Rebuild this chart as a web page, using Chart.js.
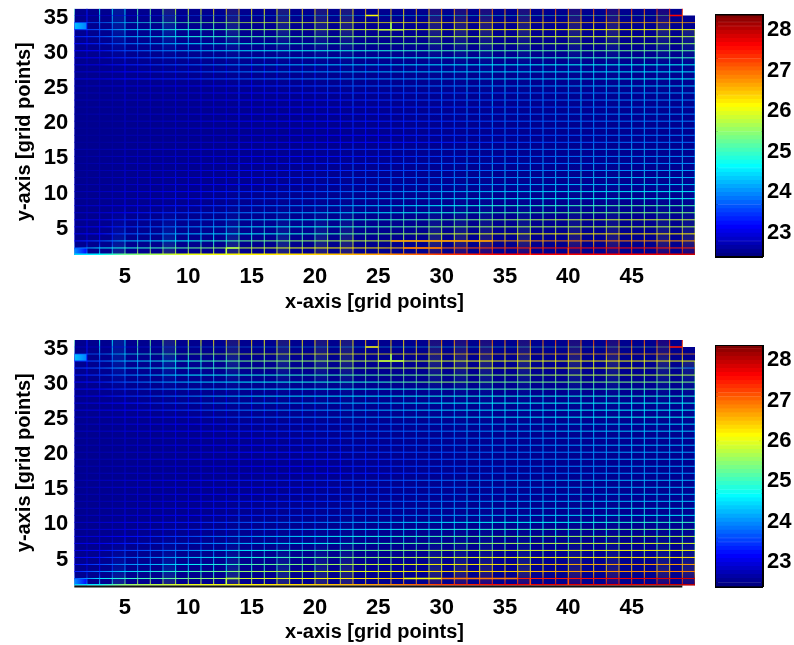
<!DOCTYPE html>
<html lang="en">
<head>
<meta charset="UTF-8">
<title>Grid point heat maps</title>
<script src="https://cdn.jsdelivr.net/npm/chart.js"></script>
<style>
    html, body { margin: 0; padding: 0; background: #fff; }
    body { width: 794px; height: 645px; position: relative; overflow: hidden; }
    canvas { position: absolute; }
</style>
</head>
<body>
<canvas id="map1" width="700" height="320" style="left:0;top:0;width:700px;height:320px"></canvas>
<canvas id="bar1" width="94" height="320" style="left:700px;top:0;width:94px;height:320px"></canvas>
<canvas id="map2" width="700" height="315" style="left:0;top:330px;width:700px;height:315px"></canvas>
<canvas id="bar2" width="94" height="315" style="left:700px;top:330px;width:94px;height:315px"></canvas>
<script>
const xTicks = [5, 10, 15, 20, 25, 30, 35, 40, 45];
const yTicks = [5, 10, 15, 20, 25, 30, 35];
const barTicks = [23, 24, 25, 26, 27, 28];
const xTitle = 'x-axis [grid points]';
const yTitle = 'y-axis [grid points]';

// colour levels of the colorbar
const levels = [22.4,22.5,22.6,22.7,22.8,22.9,23.0,23.1,23.2,23.3,23.4,23.5,23.6,23.7,23.8,23.9,24.0,24.1,24.2,24.3,
    24.4,24.5,24.6,24.7,24.8,24.9,25.0,25.1,25.2,25.3,25.4,25.5,25.6,25.7,25.8,25.9,26.0,26.1,26.2,26.3,
    26.4,26.5,26.6,26.7,26.8,26.9,27.0,27.1,27.2,27.3,27.4,27.5,27.6,27.7,27.8,27.9,28.0,28.1,28.2,28.3];

// where the row values below are read along x
const rowX = [1, 3, 5, 10, 15, 20, 25, 30, 35, 40, 45, 50];
// rows run from y = 35 down to y = 1
const rowY = [35,34,33,32,31,30,29,28,27,26,25,24,23,22,21,20,19,18,17,16,15,14,13,12,11,10,9,8,7,6,5,4,3,2,1];
// where the column values below are read along y
const colY = [1, 3, 8, 18, 28, 33, 36];
// columns with a faint shaded cell
const shadedCols = [4, 8, 13, 17, 20, 22, 29, 31, 33, 36, 40, 43, 47, 49];

const rows1 = [
    [23.0,23.0,23.2,23.6,24.0,24.2,24.4,24.6,24.8,25.0,25.2,25.4],
    [23.5,23.7,24.3,25.2,25.8,26.0,26.1,26.3,26.4,26.5,26.6,26.7],
    [23.4,23.7,24.2,24.9,25.5,25.8,25.9,26.0,26.1,26.1,26.1,26.0],
    [23.3,23.6,24.1,24.8,25.1,25.3,25.5,25.7,25.8,25.9,25.9,25.7],
    [23.2,23.4,23.8,24.4,24.8,25.0,25.2,25.3,25.5,25.6,25.6,25.5],
    [23.1,23.2,23.6,24.1,24.5,24.7,24.8,25.0,25.1,25.2,25.3,25.2],
    [23.0,23.1,23.4,23.9,24.3,24.5,24.6,24.7,24.8,24.9,25.0,25.0],
    [22.9,23.0,23.3,23.7,24.1,24.3,24.4,24.5,24.6,24.7,24.7,24.7],
    [22.8,22.9,23.1,23.5,23.9,24.0,24.2,24.3,24.4,24.4,24.5,24.5],
    [22.9,23.0,23.2,23.4,23.7,23.9,24.0,24.1,24.3,24.4,24.6,24.6],
    [22.7,22.8,22.9,23.0,23.3,23.5,23.7,23.8,23.9,24.0,24.2,24.3],
    [22.7,22.7,22.8,22.9,23.1,23.3,23.4,23.5,23.6,23.7,23.9,24.0],
    [22.7,22.7,22.8,22.9,23.1,23.2,23.4,23.5,23.6,23.7,23.9,23.9],
    [22.6,22.7,22.7,22.8,23.0,23.2,23.3,23.4,23.5,23.6,23.8,23.8],
    [22.6,22.7,22.7,22.9,23.1,23.2,23.3,23.5,23.6,23.7,23.9,23.9],
    [22.6,22.6,22.7,22.9,23.1,23.2,23.3,23.4,23.6,23.7,23.8,23.9],
    [22.6,22.6,22.7,22.9,23.0,23.1,23.3,23.4,23.5,23.7,23.8,23.9],
    [22.6,22.6,22.7,22.8,23.0,23.1,23.2,23.4,23.5,23.6,23.8,23.9],
    [22.6,22.6,22.7,22.8,23.0,23.1,23.2,23.3,23.5,23.6,23.8,23.8],
    [22.7,22.7,22.8,23.0,23.2,23.3,23.4,23.6,23.7,23.8,24.0,24.0],
    [22.6,22.7,22.8,22.9,23.1,23.2,23.3,23.5,23.6,23.8,23.9,24.0],
    [22.6,22.7,22.8,22.9,23.1,23.3,23.4,23.6,23.7,23.8,23.9,24.0],
    [22.6,22.7,22.8,22.9,23.2,23.3,23.5,23.6,23.8,23.9,24.0,24.1],
    [22.6,22.7,22.8,23.0,23.2,23.4,23.6,23.7,23.9,24.0,24.2,24.2],
    [22.7,22.7,22.8,23.0,23.2,23.4,23.6,23.8,24.0,24.2,24.2,24.3],
    [22.7,22.8,22.9,23.1,23.4,23.6,23.9,24.1,24.3,24.4,24.5,24.6],
    [22.7,22.8,22.9,23.2,23.5,23.8,24.1,24.3,24.5,24.6,24.7,24.7],
    [22.8,22.9,23.0,23.3,23.7,24.0,24.3,24.6,24.9,25.0,25.2,25.1],
    [22.8,22.9,23.1,23.5,23.9,24.2,24.5,24.8,25.1,25.3,25.4,25.4],
    [22.9,23.0,23.3,23.7,24.2,24.6,24.9,25.2,25.5,25.8,25.9,25.8],
    [22.9,23.1,23.4,23.9,24.4,24.7,25.0,25.4,25.6,25.7,25.8,25.7],
    [23.0,23.2,23.6,24.2,24.6,24.9,25.3,25.8,26.0,26.2,26.3,26.2],
    [23.2,23.6,24.2,24.7,25.3,25.6,25.9,26.5,26.7,26.9,26.9,26.7],
    [23.6,24.5,24.8,25.2,25.8,26.1,26.3,27.0,27.4,27.6,27.6,27.4],
    [24.4,24.6,25.3,26.0,26.2,26.4,26.7,27.3,27.7,27.7,27.7,27.9]
];

const cols1 = [
    [24.2,23.0,22.9,22.8,22.9,23.2,25.0],
    [24.0,23.0,22.7,22.6,22.7,23.2,23.3],
    [24.6,23.2,22.8,22.6,22.7,23.6,24.7],
    [24.8,23.4,22.8,22.6,22.8,23.8,24.6],
    [25.3,24.0,23.1,22.8,23.1,24.2,24.5],
    [25.8,24.0,23.0,22.7,22.9,24.2,25.2],
    [25.9,24.1,23.0,22.7,22.9,24.3,25.4],
    [26.0,24.2,23.0,22.7,22.9,24.4,25.5],
    [26.0,24.6,23.3,22.8,23.0,24.6,25.9],
    [26.0,24.5,23.2,22.8,23.0,24.7,26.0],
    [26.1,24.5,23.2,22.8,23.0,24.8,26.1],
    [26.1,24.6,23.3,22.8,23.0,24.9,26.4],
    [26.1,24.7,23.3,22.8,23.0,25.0,26.5],
    [26.2,25.2,23.8,23.1,23.6,25.3,26.6],
    [26.2,24.9,23.4,22.9,23.2,25.3,26.3],
    [26.2,25.0,23.5,22.9,23.3,25.3,26.2],
    [26.3,25.0,23.5,22.9,23.3,25.4,26.2],
    [26.3,25.2,23.7,23.0,23.4,25.4,26.2],
    [26.4,25.1,23.6,23.0,23.4,25.4,26.4],
    [26.4,25.1,23.6,23.0,23.4,25.5,26.4],
    [26.5,25.5,23.9,23.1,23.7,25.6,26.5],
    [26.5,25.3,23.8,23.1,23.5,25.6,26.5],
    [26.6,25.8,24.2,23.3,24.0,25.8,26.3],
    [26.6,25.5,23.9,23.2,23.6,25.7,26.6],
    [26.7,25.5,24.0,23.2,23.6,25.7,26.6],
    [26.8,25.6,24.1,23.3,23.8,25.8,26.5],
    [26.9,25.7,24.2,23.3,23.8,25.8,26.4],
    [27.0,25.8,24.2,23.4,23.9,25.8,26.7],
    [27.1,25.8,24.2,23.4,23.8,25.8,26.6],
    [27.2,26.0,24.4,23.5,24.1,26.0,26.9],
    [27.3,26.0,24.4,23.5,24.0,26.0,26.8],
    [27.4,26.3,24.7,23.7,24.4,26.1,27.0],
    [27.5,26.1,24.5,23.6,24.1,26.0,27.0],
    [27.6,26.5,24.8,23.8,24.5,26.2,27.0],
    [27.6,26.4,24.7,23.8,24.4,26.1,26.9],
    [27.6,26.2,24.6,23.7,24.2,26.0,26.8],
    [27.7,26.2,24.6,23.7,24.2,26.0,26.9],
    [27.7,26.3,24.7,23.8,24.2,26.0,27.0],
    [27.7,26.4,24.7,23.8,24.3,26.1,27.2],
    [27.7,26.3,24.7,23.8,24.3,26.0,27.0],
    [27.7,26.6,25.0,24.0,24.6,26.2,27.0],
    [27.7,26.4,24.8,23.9,24.4,26.1,27.2],
    [27.7,26.4,24.8,23.9,24.4,26.1,27.4],
    [27.7,26.6,25.0,24.0,24.6,26.2,27.1],
    [27.7,26.5,24.9,24.0,24.5,26.1,27.3],
    [27.7,26.5,24.9,24.0,24.5,26.1,27.1],
    [27.7,26.4,24.8,23.9,24.4,26.0,27.4],
    [27.8,26.4,24.8,23.9,24.4,26.0,27.5],
    [27.8,26.5,24.9,24.0,24.5,26.0,27.5],
    [27.9,26.4,24.8,23.9,24.4,25.9,null]
];

// single edges that stand out: x0, y0, x1, y1, value
const edges1 = [
    [25,33,27,33,25.8],
    [24,35,25,35,26.1],
    [26,34,26,33,25.6],
    [13,2,14,2,25.7],
    [13,1,13,2,25.8],
    [27,2,30,2,26.9],
    [26,3,34,3,26.7],
    [37,1,37,2,27.2],
    [40,1,40,2,27.2],
    [48,35,49,35,27.6]
];

const rows2 = [
    [23.0,23.0,23.2,23.7,24.1,24.3,24.5,24.7,24.9,25.1,25.3,25.5],
    [23.6,23.8,24.5,25.4,25.9,26.1,26.2,26.4,26.5,26.6,26.7,26.8],
    [23.4,23.7,24.2,24.9,25.4,25.6,25.8,25.9,26.0,26.1,26.1,26.0],
    [23.4,23.7,24.2,24.9,25.3,25.5,25.6,25.9,26.0,26.1,26.1,23.9],
    [23.3,23.5,23.9,24.6,24.8,25.0,25.2,25.4,25.5,25.7,25.8,25.7],
    [23.1,23.3,23.7,24.3,24.6,24.8,24.9,25.5,25.3,25.4,25.4,25.4],
    [23.0,23.2,23.5,24.1,24.4,24.6,24.7,24.9,25.1,25.1,25.1,25.2],
    [22.9,23.1,23.4,23.9,24.4,24.5,24.6,24.8,24.8,24.8,24.9,24.9],
    [22.9,23.0,23.2,23.7,24.1,24.2,24.3,24.6,24.7,24.7,24.7,24.7],
    [22.9,23.0,23.1,23.5,23.9,24.0,24.2,24.4,24.5,24.6,24.6,24.6],
    [22.8,22.9,23.0,23.3,23.7,23.9,24.1,24.3,24.5,24.6,24.7,24.7],
    [22.7,22.8,22.9,23.1,23.4,23.5,23.7,23.9,24.1,24.2,24.3,24.4],
    [22.8,22.8,22.9,23.1,23.3,23.5,23.7,23.8,24.0,24.2,24.3,24.3],
    [22.7,22.7,22.8,23.0,23.2,23.4,23.6,23.7,23.9,24.0,24.1,24.2],
    [22.7,22.7,22.8,23.0,23.2,23.4,23.5,23.7,23.9,24.0,24.2,24.2],
    [22.7,22.7,22.8,22.9,23.2,23.3,23.5,23.6,23.8,23.9,24.1,24.1],
    [22.7,22.7,22.8,23.0,23.1,23.3,23.4,23.6,23.8,23.9,24.1,24.2],
    [22.7,22.7,22.8,22.9,23.1,23.2,23.4,23.6,23.7,23.9,24.0,24.1],
    [22.6,22.7,22.8,22.9,23.0,23.2,23.3,23.5,23.7,23.8,24.0,24.0],
    [22.7,22.8,22.9,23.1,23.3,23.4,23.6,23.8,23.9,24.1,24.2,24.2],
    [22.7,22.8,22.9,23.0,23.2,23.3,23.5,23.7,23.8,24.0,24.1,24.2],
    [22.7,22.7,22.8,23.0,23.2,23.4,23.5,23.7,23.8,24.0,24.1,24.2],
    [22.7,22.7,22.8,23.0,23.3,23.4,23.6,23.8,24.0,24.1,24.2,24.3],
    [22.7,22.8,22.9,23.1,23.3,23.5,23.7,23.9,24.1,24.2,24.4,24.4],
    [22.7,22.8,22.9,23.1,23.4,23.6,23.8,24.0,24.2,24.4,24.5,24.5],
    [22.8,22.9,23.0,23.3,23.7,23.9,24.2,24.5,24.7,24.7,24.9,25.0],
    [22.8,22.9,23.0,23.4,23.8,24.2,24.5,24.8,25.0,25.2,25.3,25.3],
    [22.9,23.0,23.2,23.6,24.1,24.5,24.8,25.1,25.4,25.6,25.7,25.7],
    [23.0,23.1,23.3,23.8,24.3,24.7,25.0,25.3,25.6,25.8,25.9,25.9],
    [23.0,23.2,23.5,24.0,24.6,25.0,25.3,25.7,25.9,26.0,26.1,26.1],
    [23.1,23.3,23.7,24.3,24.8,25.2,25.5,25.9,26.1,26.2,26.3,26.3],
    [23.2,23.6,24.0,24.6,25.1,25.5,25.9,26.2,26.3,26.6,26.7,26.7],
    [23.3,23.9,24.4,25.0,25.6,25.9,26.1,26.4,26.4,26.7,26.8,26.9],
    [23.6,24.5,24.9,25.3,25.9,26.1,26.3,27.0,27.4,27.5,27.7,27.9],
    [24.4,24.6,25.5,26.0,26.2,26.4,26.7,27.3,27.7,27.8,27.8,28.0]
];

const cols2 = [
    [24.2,23.0,22.9,22.8,22.9,23.2,25.1],
    [24.0,23.0,22.7,22.7,22.7,23.2,23.3],
    [24.6,23.2,22.8,22.7,22.8,23.6,24.7],
    [24.9,23.5,22.8,22.7,22.8,23.8,24.6],
    [25.4,24.0,23.1,22.8,23.1,24.2,24.5],
    [25.8,24.0,23.0,22.8,23.0,24.2,25.3],
    [25.9,24.1,23.0,22.8,23.0,24.3,25.4],
    [26.0,24.2,23.1,22.8,23.0,24.4,25.6],
    [26.0,24.6,23.3,22.9,23.1,24.6,25.9],
    [26.0,24.5,23.2,22.9,23.1,24.7,26.0],
    [26.1,24.5,23.2,22.9,23.1,24.8,26.1],
    [26.1,24.6,23.3,22.9,23.1,24.9,26.4],
    [26.1,24.7,23.3,22.9,23.1,25.0,26.5],
    [26.2,25.2,23.8,23.1,23.6,25.3,26.6],
    [26.2,24.9,23.4,22.9,23.3,25.3,26.5],
    [26.2,25.0,23.5,23.0,23.4,25.3,26.2],
    [26.3,25.0,23.5,23.0,23.4,25.4,26.3],
    [26.3,25.2,23.7,23.1,23.5,25.4,26.4],
    [26.4,25.1,23.6,23.1,23.5,25.4,26.3],
    [26.4,25.1,23.6,23.1,23.5,25.5,26.4],
    [26.5,25.5,23.9,23.2,23.8,25.6,26.5],
    [26.5,25.3,23.8,23.2,23.6,25.6,26.5],
    [26.6,25.8,24.2,23.4,24.1,25.8,26.3],
    [26.6,25.5,23.9,23.3,23.7,25.7,26.6],
    [26.7,25.5,24.0,23.3,23.7,25.7,26.6],
    [26.8,25.6,24.1,23.4,23.9,25.8,26.5],
    [26.9,25.7,24.2,23.4,23.9,25.8,26.4],
    [27.0,25.8,24.2,23.5,24.0,25.8,26.7],
    [27.1,25.8,24.2,23.5,23.9,25.8,26.6],
    [27.2,26.0,24.4,23.6,24.2,26.0,26.9],
    [27.3,26.0,24.4,23.6,24.1,26.0,26.8],
    [27.4,26.3,24.7,23.8,24.5,26.1,27.0],
    [27.5,26.1,24.5,23.7,24.2,26.0,27.0],
    [27.6,26.5,24.8,23.9,24.6,26.2,27.0],
    [27.6,26.4,24.7,23.9,24.5,26.1,26.9],
    [27.6,26.2,24.6,23.8,24.3,26.0,26.8],
    [27.7,26.2,24.6,23.8,24.3,26.0,26.9],
    [27.7,26.3,24.7,23.9,24.3,26.0,27.0],
    [27.7,26.4,24.7,23.9,24.4,26.1,27.2],
    [27.7,26.3,24.7,23.9,24.4,26.0,27.0],
    [27.7,26.6,25.0,24.1,24.7,26.2,27.0],
    [27.7,26.4,24.8,24.0,24.5,26.1,27.2],
    [27.7,26.4,24.8,24.0,24.5,26.1,27.4],
    [27.7,26.6,25.0,24.1,24.7,26.2,27.1],
    [27.7,26.5,24.9,24.1,24.6,26.1,27.3],
    [27.7,26.5,24.9,24.1,24.6,26.1,27.1],
    [27.7,26.4,24.8,24.0,24.5,26.0,27.4],
    [27.8,26.4,24.8,24.0,24.5,26.0,27.5],
    [27.8,26.5,24.9,24.1,24.6,26.0,27.5],
    [28.0,26.4,24.8,24.0,24.5,25.9,null]
];

const edges2 = [
    [25,33,27,33,25.8],
    [24,35,25,35,26.2],
    [26,34,26,33,25.6],
    [13,2,14,2,25.7],
    [13,1,13,2,25.8],
    [27,2,30,2,26.1],
    [30,2,36,2,26.9],
    [37,1,37,2,27.2],
    [40,1,40,2,27.2],
    [48,35,49,35,27.6]
];

const fontName = '"Liberation Sans", Arial, sans-serif';
const cmin = 22.43, cmax = 28.36;

function jet(v, alpha) {
    const t = Math.min(1, Math.max(0, (v - cmin) / (cmax - cmin)));
    const ch = d => Math.round(255 * Math.min(1, Math.max(0, 1.5 - Math.abs(4 * t - d))));
    return `rgba(${ch(3)},${ch(2)},${ch(1)},${alpha === undefined ? 1 : alpha})`;
}

// gradient along a row or a column, one colour stop per value
function lineGradient(chart, horizontal, stops, values, alphas) {
    if (!chart.chartArea) return '#00008f';
    const scale = horizontal ? chart.scales.x : chart.scales.y;
    const p0 = scale.getPixelForValue(stops[0]);
    const p1 = scale.getPixelForValue(stops[stops.length - 1]);
    const g = horizontal ? chart.ctx.createLinearGradient(p0, 0, p1, 0)
                         : chart.ctx.createLinearGradient(0, p0, 0, p1);
    stops.forEach((s, i) => {
        if (values[i] === null) return;
        g.addColorStop((scale.getPixelForValue(s) - p0) / (p1 - p0), jet(values[i], alphas ? alphas[i] : 1));
    });
    return g;
}

const lineDefaults = { pointRadius: 0, borderCapStyle: 'butt', tension: 0, clip: 0, spanGaps: false, fill: false };
const shadeAlpha = [0.14, 0.12, 0.02, 0, 0.02, 0.12, 0.1];

function heatDatasets(rows, cols, edges, blue) {
    const sets = [];
    // footprint of the grid, y = 36 stops one column short
    sets.push({ ...lineDefaults, data: [{x:1,y:36},{x:49,y:36},{x:49,y:35},{x:50,y:35}], fill: 'start',
        backgroundColor: blue, borderWidth: 0 });
    shadedCols.forEach(c => {
        const v = cols[c];
        sets.push({ ...lineDefaults, borderWidth: 12,
            data: colY.map((y, i) => ({ x: c + 0.5, y: v[i] === null ? null : y })),
            borderColor: ctx => lineGradient(ctx.chart, false, colY, v, shadeAlpha) });
    });
    // the two corner cells at the left edge
    sets.push({ ...lineDefaults, borderWidth: 7, data: [{x:1,y:33.5},{x:2,y:33.5}],
        borderColor: ctx => lineGradient(ctx.chart, true, [1, 2], [24.3, 23.9]) });
    sets.push({ ...lineDefaults, borderWidth: 7, data: [{x:1,y:1.5},{x:2,y:1.5}],
        borderColor: ctx => lineGradient(ctx.chart, true, [1, 2], [24.0, 23.2]) });
    cols.forEach((v, i) => {
        const x = i + 1;
        sets.push({ ...lineDefaults, borderWidth: 0.9,
            data: colY.map((y, k) => ({ x, y: v[k] === null ? null : y })),
            borderColor: ctx => lineGradient(ctx.chart, false, colY, v) });
    });
    rows.forEach((v, i) => {
        const y = rowY[i];
        const width = y === 35 ? 0.4 : y === 34 ? 0.7 : y === 1 ? 3 : 1;
        const xs = y === 35 ? rowX.slice(0, -1).concat(49) : rowX;
        sets.push({ ...lineDefaults, borderWidth: width,
            data: xs.map(x => ({ x, y })),
            borderColor: ctx => lineGradient(ctx.chart, true, xs, v) });
    });
    edges.forEach(e => {
        sets.push({ ...lineDefaults, borderWidth: 1.5, borderColor: jet(e[4]),
            data: [{x:e[0],y:e[1]},{x:e[2],y:e[3]}] });
    });
    return sets;
}

function drawMap(id, rows, cols, edges, opts) {
    const sets = heatDatasets(rows, cols, edges, opts.blue);
    if (opts.axisLine) {
        sets.push({ ...lineDefaults, clip: false, borderWidth: 2, borderColor: '#111',
            data: [{x:1,y:opts.axisLine},{x:49,y:opts.axisLine}] });
    }
    // chart.js paints the first dataset last, the footprint has to stay underneath
    sets.reverse();
    new Chart(document.getElementById(id), {
        type: 'line',
        data: { datasets: sets },
        options: {
            responsive: false, animation: false,
            layout: { padding: { top: opts.top, right: 5 } },
            plugins: { legend: { display: false }, tooltip: { enabled: false } },
            scales: {
                x: {
                    type: 'linear', min: 1, max: 50,
                    afterBuildTicks: s => { s.ticks = xTicks.map(value => ({ value })); },
                    afterFit: s => { s.height = opts.height - opts.bottom; s.paddingLeft = 0; s.paddingRight = 0; },
                    grid: { display: false, drawTicks: false }, border: { display: false },
                    ticks: { color: '#000', padding: 9, maxRotation: 0, autoSkip: false, font: { family: fontName, size: 22, weight: 'bold' } }
                },
                y: {
                    type: 'linear', min: 1, max: 36,
                    afterBuildTicks: s => { s.ticks = yTicks.map(value => ({ value })); },
                    afterFit: s => { s.width = 74.3; s.paddingTop = 0; s.paddingBottom = 0; },
                    grid: { display: false, drawTicks: false }, border: { display: false },
                    title: { display: true, text: yTitle, color: '#000', padding: { top: 12, bottom: 0 }, font: { family: fontName, size: 20, weight: 'bold' } },
                    ticks: { color: '#000', padding: 6, labelOffset: 2, autoSkip: false, font: { family: fontName, size: 22, weight: 'bold' } }
                }
            }
        },
        plugins: [{
            // the x title sits left of the axis centre in the original
            id: 'xTitle',
            afterDraw(chart) {
                const c = chart.ctx;
                c.save();
                c.font = `bold 20px ${fontName}`;
                c.fillStyle = '#000';
                c.textAlign = 'center';
                c.textBaseline = 'middle';
                c.fillText(xTitle, chart.scales.x.getPixelForValue(24.7), opts.titleY);
                c.restore();
            }
        }]
    });
}

function drawBar(id, opts) {
    const sets = levels.map(lo => ({
        data: [[lo, lo + 0.1]],
        backgroundColor: jet(lo + 0.05), borderColor: jet(lo + 0.05), borderWidth: 0.5, borderSkipped: false,
        barPercentage: 1, categoryPercentage: 1, grouped: false
    }));
    const edge = { display: true, color: '#000', width: 3 };
    const hiddenTicks = { display: false };
    const tickMarks = { drawOnChartArea: false, drawTicks: true, tickLength: -3, tickWidth: 2, tickColor: '#000' };
    new Chart(document.getElementById(id), {
        type: 'bar',
        data: { labels: [''], datasets: sets },
        options: {
            responsive: false, animation: false,
            layout: { padding: { top: opts.top, left: 16, bottom: opts.height - opts.bottom } },
            plugins: { legend: { display: false }, tooltip: { enabled: false } },
            scales: {
                x: { position: 'bottom', grid: { display: false }, border: edge, ticks: hiddenTicks, afterFit: s => { s.height = 0; } },
                x2: { position: 'top', type: 'category', labels: [''], grid: { display: false }, border: edge, ticks: hiddenTicks, afterFit: s => { s.height = 0; } },
                y: {
                    position: 'right', min: opts.cmin, max: opts.cmax,
                    afterBuildTicks: s => { s.ticks = barTicks.map(value => ({ value })); },
                    afterFit: s => { s.width = 32; s.paddingTop = 0; s.paddingBottom = 0; },
                    grid: tickMarks, border: edge,
                    ticks: { color: '#000', padding: 8, autoSkip: false, font: { family: fontName, size: 22, weight: 'bold' } }
                },
                y2: {
                    position: 'left', min: opts.cmin, max: opts.cmax,
                    afterBuildTicks: s => { s.ticks = barTicks.map(value => ({ value })); },
                    afterFit: s => { s.width = 0; s.paddingTop = 0; s.paddingBottom = 0; },
                    grid: tickMarks, border: edge, ticks: hiddenTicks
                }
            }
        }
    });
}

drawMap('map1', rows1, cols1, edges1, { height: 320, top: 8.5, bottom: 255, titleY: 302, blue: '#00008f' });
drawBar('bar1', { height: 320, top: 15.5, bottom: 256, cmin: 22.43, cmax: 28.36 });
drawMap('map2', rows2, cols2, edges2, { height: 315, top: 10, bottom: 255.5, titleY: 302.5, blue: '#00008f', axisLine: 0.85 });
drawBar('bar2', { height: 315, top: 16, bottom: 256.5, cmin: 22.4, cmax: 28.35 });
</script>
</body>
</html>
